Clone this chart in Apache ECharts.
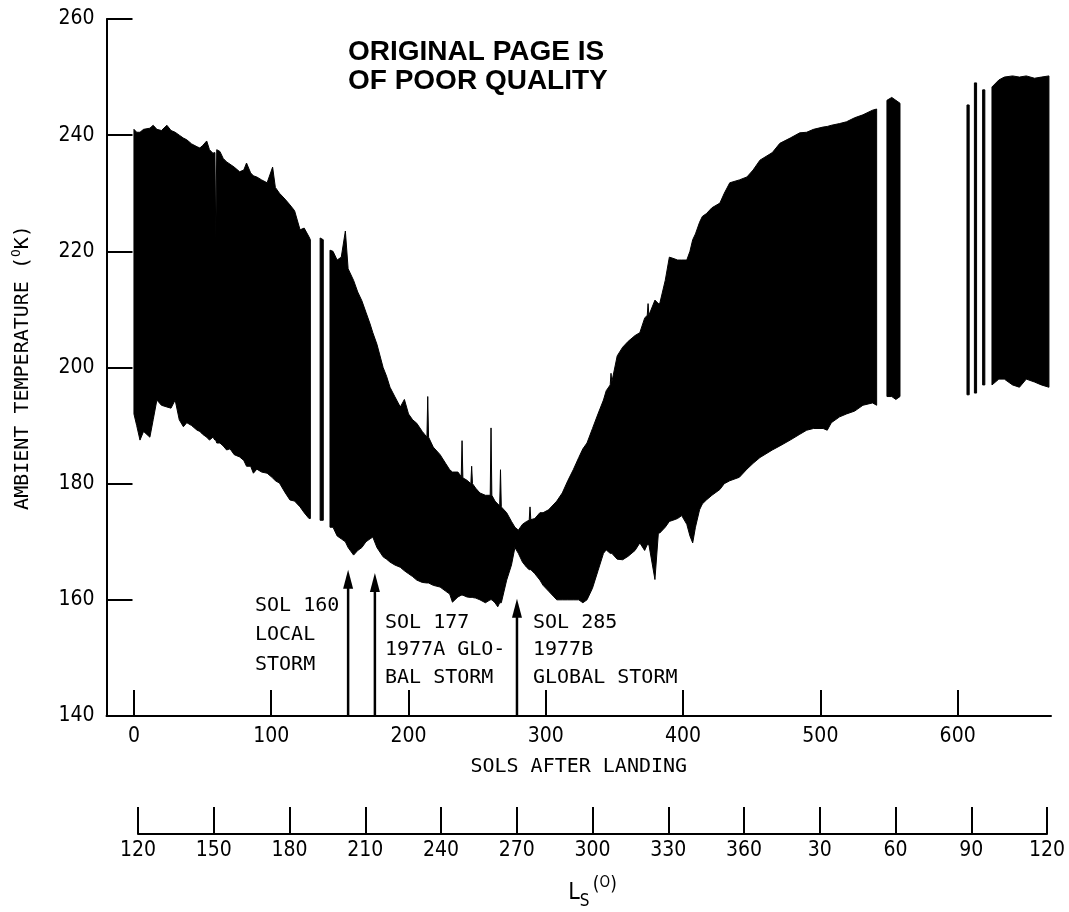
<!DOCTYPE html>
<html>
<head>
<meta charset="utf-8">
<script src="https://cdn.jsdelivr.net/npm/echarts@6/dist/echarts.min.js"></script>
<style>
  html, body { margin: 0; background: #fff; }
  #main { width: 1069px; height: 912px; }
</style>
</head>
<body>
<div id="main"></div>
<script>
// daily max / min ambient temperature envelope (K), null marks a gap in the record
var sols = [0, 2, 4.4, 7, 11.6, 14, 16.7, 20, 24, 27, 30, 33, 36, 38.5, 42, 46, 48, 50, 53, 55, 57.5, 59, 59.6, 60.3, 62.6, 65, 67.5, 70, 73, 77, 80, 82, 85, 87, 89.5, 93, 97, 101, 103, 106, 110, 113.6, 117, 121, 124, 127.5, 128.5,
  null,
  135.6, 137.9,
  null,
  142.8, 145, 148, 151, 154, 156, 160, 163, 166, 169, 172, 174, 177, 181.5, 184, 186.5, 190, 194, 197, 200, 203, 206, 210, 213.4, 214, 214.6, 218, 223, 227, 230, 232, 236, 238.4, 239, 239.6, 242.5, 245.4, 246, 246.6, 249, 252, 256, 259.5, 260.1, 260.7, 263, 265, 266.4, 267, 267.6, 271.5, 275, 277.5, 280, 283, 286, 287.9, 288.5, 289.1, 292, 295.7, 298, 302, 306, 308, 312, 316, 320, 324, 327, 330, 334, 338, 342, 344, 346.9, 347.5, 348.1, 352, 356, 360, 365, 368.5, 372, 373.9, 374.5, 375.1, 379.5, 382, 383, 387, 390, 392.6, 396, 399, 402.7, 405, 407, 409, 412, 414, 417, 421, 426.8, 430, 434, 441, 446.5, 451, 456, 465, 470.5, 478, 485, 490, 495, 502, 505, 508, 514, 519, 525, 531, 538, 541,
  null,
  548.5, 552, 555, 558,
  null,
  606.8, 608.4,
  null,
  612.2, 613.8,
  null,
  618.2, 619.8,
  null,
  625, 630, 634, 640, 645, 650, 656, 661, 666.5]

var tMax = [241, 240.5, 240.5, 241, 241.2, 241.7, 241, 240.8, 241.7, 240.8, 240.5, 240, 239.5, 239.2, 238.5, 238, 237.8, 238.2, 239, 237.5, 236.9, 237, 222, 237.5, 237.2, 236, 235.4, 235, 234.5, 233.7, 234, 235.2, 233.5, 233, 232.8, 232.3, 231.8, 234.5, 231, 230, 229, 228, 227, 223.7, 224, 222.5, 222,
  null,
  222.3, 222,
  null,
  220.2, 220, 218.5, 219, 223.5, 217, 215, 213, 211.5, 209.5, 207.5, 206, 204, 200, 198.5, 196.6, 195, 193.2, 194.5, 192, 191, 190.4, 189, 188, 195, 188, 186.3, 185, 183.5, 182.4, 182, 182, 181.2, 187.4, 181, 180.6, 180, 183, 180, 179.2, 178.4, 178, 178, 189.6, 178, 177, 176.5, 176.2, 182.4, 176, 175, 173.5, 172.5, 172, 173, 173.5, 173.7, 176, 173.8, 174, 175, 175, 175.5, 176.5, 177, 178.4, 180.5, 182.4, 184.5, 186, 187, 189.5, 192, 194.4, 196, 197, 199, 197.5, 202, 203.5, 204.5, 205.5, 206, 208.5, 209, 211, 209, 211.6, 211, 211, 215, 219, 218.8, 218.5, 218.5, 218.5, 220, 222, 223, 225, 226, 226.5, 227.5, 228.3, 230, 231.8, 232.3, 232.8, 234, 235.7, 237, 238.6, 239.5, 240.4, 240.5, 241, 241.4, 241.5, 241.7, 242, 242.3, 243, 243.5, 244.3, 244.5,
  null,
  246, 246.5, 246, 245.5,
  null,
  245.2, 245.2,
  null,
  249, 249,
  null,
  247.8, 247.8,
  null,
  248.3, 249.5, 250, 250.2, 250, 250.2, 249.8, 250, 250.2]

var tMin = [192, 190, 187.5, 189, 188, 191, 194.4, 193.5, 193.2, 193, 194.4, 191, 189.8, 190.5, 190, 189.2, 189, 188.5, 188, 187.5, 188, 187.5, 187.5, 187, 187, 186.5, 185.8, 186, 185, 184.6, 184, 183, 183, 181.8, 182.5, 182, 181.8, 181, 180.5, 180.1, 178.5, 177.2, 177, 176, 175, 174, 174,
  null,
  173.7, 173.7,
  null,
  172.5, 172.5, 171, 170.5, 170, 169, 167.7, 168.5, 169, 170, 170.5, 170.8, 169, 167.4, 167, 166.5, 166, 165.6, 165, 164.5, 164, 163.4, 163, 162.9, 162.9, 162.9, 162.5, 162.2, 161.5, 161, 159.6, 160.5, 160.8, 160.8, 160.8, 160.5, 160.4, 160.4, 160.4, 160.3, 160, 159.5, 160, 160, 160, 159.5, 158.8, 159.5, 159.5, 159.5, 163.4, 166, 169, 168, 166.5, 165.6, 165.2, 165.2, 165.2, 164.5, 163.4, 162.5, 161.5, 160.5, 160, 160, 160, 160, 160, 159.5, 160, 162, 165, 168, 168.6, 168, 168, 168, 167, 166.9, 167.5, 168.5, 169.8, 168.5, 169.5, 169.5, 169.5, 163.5, 171.5, 171.5, 172.5, 173.5, 173.7, 174, 174.5, 173, 171, 169.8, 172.5, 175.5, 176.5, 177.2, 178, 179, 180, 180.5, 181.1, 182.5, 183.5, 184.5, 185.8, 186.5, 187.5, 188.5, 189.2, 189.5, 189.5, 189.2, 190.5, 191.5, 192, 192.5, 193.5, 193.9, 193.5,
  null,
  195, 195, 194.5, 195,
  null,
  195.3, 195.3,
  null,
  195.6, 195.6,
  null,
  197, 197,
  null,
  197, 198, 198, 197, 196.6, 198, 197.5, 197, 196.6]

var solTicks = [0, 100, 200, 300, 400, 500, 600]

// dust storm markers: sol of arrow and temperature of its tip
var arrowSols = [156, 175.5, 279]
var arrowTops = [165.2, 164.6, 160.2]
var notes = ['SOL 160\nLOCAL\nSTORM', 'SOL 177\n1977A GLO-\nBAL STORM', 'SOL 285\n1977B\nGLOBAL STORM']

var numFont = '"DejaVu Sans Condensed", "Liberation Sans Narrow", "DejaVu Sans", sans-serif'
var monoFont = '"DejaVu Sans Mono", "Liberation Mono", monospace'

// contiguous runs of samples -> one filled polygon each
var runs = []
var start = null
for (var i = 0; i <= sols.length; i++) {
  if (i < sols.length && sols[i] != null) {
    if (start == null) start = i
  } else if (start != null) {
    runs.push([sols[start], sols[i - 1], start, i - 1])
    start = null
  }
}

var arrowData = arrowSols.map(function (s, i) {
  return [s, 140, arrowTops[i]]
})

function renderBand(params, api) {
  var from = api.value(2)
  var to = api.value(3)
  var pts = []
  for (var k = from; k <= to; k++) pts.push(api.coord([sols[k], tMax[k]]))
  for (var k = to; k >= from; k--) pts.push(api.coord([sols[k], tMin[k]]))
  return {
    type: 'polygon',
    shape: { points: pts },
    style: { fill: '#000', stroke: '#000', lineWidth: 1 }
  }
}

function renderArrow(params, api) {
  var base = api.coord([api.value(0), api.value(1)])
  var tip = api.coord([api.value(0), api.value(2)])
  return {
    type: 'group',
    children: [{
      type: 'line',
      shape: { x1: base[0], y1: base[1], x2: tip[0], y2: tip[1] + 14 },
      style: { stroke: '#000', lineWidth: 2.5 }
    }, {
      type: 'polygon',
      shape: { points: [[tip[0], tip[1]], [tip[0] - 5, tip[1] + 19], [tip[0] + 5, tip[1] + 19]] },
      style: { fill: '#000' }
    }]
  }
}

var chart = echarts.init(document.getElementById('main'), null, { renderer: 'canvas' })

var option = {
  backgroundColor: '#fff',
  animation: false,
  title: {
    text: 'ORIGINAL PAGE IS\nOF POOR QUALITY',
    left: 348,
    top: 38,
    padding: 0,
    textStyle: {
      fontFamily: '"Liberation Sans", Arial, sans-serif',
      fontWeight: 'bold',
      fontSize: 28,
      lineHeight: 29,
      color: '#000'
    }
  },
  grid: [{
    left: 106.5, right: 18, top: 19, bottom: 196, outerBoundsMode: 'none'
  }, {
    left: 138, right: 22, top: 800, bottom: 78, outerBoundsMode: 'none'
  }],
  xAxis: [{
    type: 'value',
    gridIndex: 0,
    min: -20,
    max: 668,
    name: 'SOLS AFTER LANDING',
    nameLocation: 'middle',
    nameGap: 41,
    nameTextStyle: { fontFamily: monoFont, fontSize: 20, color: '#000' },
    axisLine: { onZero: false, lineStyle: { color: '#000', width: 2 } },
    axisTick: { inside: true, length: 26, customValues: solTicks, lineStyle: { color: '#000', width: 2 } },
    axisLabel: { customValues: solTicks, margin: 10, fontFamily: numFont, fontSize: 21, color: '#000' },
    splitLine: { show: false }
  }, {
    type: 'value',
    gridIndex: 1,
    min: 120,
    max: 480,
    interval: 30,
    name: '{l|L}{s|S} {p|(}{o|O}{p|)}',
    nameLocation: 'middle',
    nameGap: 42,
    nameTextStyle: {
      fontFamily: numFont,
      color: '#000',
      lineHeight: 34,
      rich: {
        l: { fontFamily: numFont, fontSize: 23, color: '#000', verticalAlign: 'middle' },
        s: { fontFamily: numFont, fontSize: 17, color: '#000', verticalAlign: 'bottom' },
        p: { fontFamily: numFont, fontSize: 19, color: '#000', verticalAlign: 'top' },
        o: { fontFamily: numFont, fontSize: 15, color: '#000', verticalAlign: 'top' }
      }
    },
    axisLine: { onZero: false, lineStyle: { color: '#000', width: 2 } },
    axisTick: { inside: true, length: 27, lineStyle: { color: '#000', width: 2 } },
    axisLabel: {
      margin: 6,
      fontFamily: numFont,
      fontSize: 21,
      color: '#000',
      formatter: function (v) { return v > 360 ? v - 360 : v }
    },
    splitLine: { show: false }
  }],
  yAxis: [{
    type: 'value',
    gridIndex: 0,
    min: 140,
    max: 260,
    interval: 20,
    name: 'AMBIENT TEMPERATURE ({sup|O}K)',
    nameLocation: 'middle',
    nameGap: 72,
    nameTextStyle: {
      fontFamily: monoFont,
      fontSize: 20,
      color: '#000',
      lineHeight: 24,
      rich: {
        sup: { fontFamily: monoFont, fontSize: 13, color: '#000', verticalAlign: 'top' }
      }
    },
    axisLine: { show: true, onZero: false, lineStyle: { color: '#000', width: 2 } },
    axisTick: { show: true, inside: true, length: 26, lineStyle: { color: '#000', width: 2 } },
    axisLabel: { margin: 12, fontFamily: numFont, fontSize: 21, color: '#000' },
    splitLine: { show: false }
  }, {
    type: 'value',
    gridIndex: 1,
    min: 0,
    max: 1,
    show: false
  }],
  series: [{
    name: 'temperature',
    type: 'custom',
    xAxisIndex: 0,
    yAxisIndex: 0,
    renderItem: renderBand,
    encode: { x: [0, 1] },
    data: runs,
    silent: true
  }, {
    name: 'storms',
    type: 'custom',
    xAxisIndex: 0,
    yAxisIndex: 0,
    renderItem: renderArrow,
    encode: { x: 0, y: [1, 2] },
    data: arrowData,
    silent: true
  }],
  graphic: [{
    type: 'text', left: 255, top: 591,
    style: { text: notes[0], fontFamily: monoFont, fontSize: 20, lineHeight: 29.5, fill: '#000' }
  }, {
    type: 'text', left: 385, top: 609,
    style: { text: notes[1], fontFamily: monoFont, fontSize: 20, lineHeight: 27.5, fill: '#000' }
  }, {
    type: 'text', left: 533, top: 609,
    style: { text: notes[2], fontFamily: monoFont, fontSize: 20, lineHeight: 27.5, fill: '#000' }
  }]
}

chart.setOption(option)
</script>
</body>
</html>
